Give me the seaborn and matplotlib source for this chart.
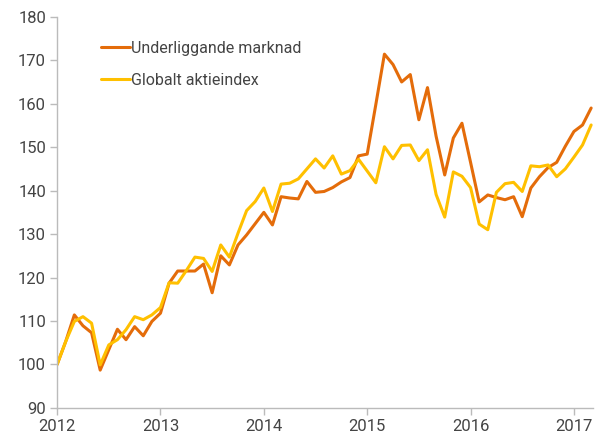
import numpy as np
import pandas as pd
import matplotlib
matplotlib.use("Agg")
import matplotlib.pyplot as plt
import seaborn as sns

# Monthly index values, Jan 2012 - Mar 2017
underliggande = [100.0, 105.3, 111.4, 108.9, 107.3, 98.7, 103.4, 108.1, 105.7, 108.7,
                 106.6, 109.9, 111.8, 118.7, 121.5, 121.5, 121.5, 123.1, 116.5, 125.0,
                 122.9, 127.5, 129.8, 132.4, 135.0, 132.1, 138.6, 138.3, 138.1, 142.1,
                 139.6, 139.8, 140.7, 142.0, 143.0, 148.0, 148.4, 159.8, 171.4, 169.0,
                 165.0, 166.7, 156.3, 163.7, 152.5, 143.6, 152.1, 155.5, 146.5, 137.4,
                 139.0, 138.4, 137.9, 138.6, 134.0, 140.6, 143.2, 145.3, 146.5, 150.2,
                 153.6, 155.1, 159.0]
globalt = [100.0, 105.3, 109.9, 111.0, 109.5, 99.9, 104.5, 105.7, 108.0, 111.0,
           110.3, 111.4, 113.1, 118.8, 118.7, 121.6, 124.7, 124.4, 121.4, 127.5,
           124.7, 130.2, 135.4, 137.5, 140.6, 135.2, 141.5, 141.7, 142.7, 145.0,
           147.3, 145.2, 148.0, 143.8, 144.6, 147.2, 144.5, 141.8, 150.1, 147.3,
           150.4, 150.5, 146.9, 149.4, 139.1, 133.9, 144.3, 143.3, 140.7, 132.3,
           131.0, 139.6, 141.6, 141.9, 139.8, 145.7, 145.5, 145.9, 143.2, 145.0,
           147.7, 150.5, 155.1]
series_names = ["Underliggande marknad", "Globalt aktieindex"]
colors = ["#E46C0A", "#FFC000"]
year_ticks = [2012, 2013, 2014, 2015, 2016, 2017]
y_ticks = list(range(90, 181, 10))

dates = 2012 + np.arange(len(underliggande)) / 12
df = pd.DataFrame({"date": dates,
                   series_names[0]: underliggande,
                   series_names[1]: globalt})
long = df.melt(id_vars="date", var_name="serie", value_name="value")

sns.set_style("white")
plt.rcParams["font.family"] = ["Roboto", "DejaVu Sans"]

fig = plt.figure(figsize=(5.95, 4.41), dpi=100)
ax = fig.add_axes([0.096, 0.075, 0.901, 0.887])

sns.lineplot(data=long, x="date", y="value", hue="serie",
             palette=dict(zip(series_names, colors)), linewidth=2.2, ax=ax)

ax.set_xlim(2012, dates[-1] + 0.02)
ax.set_ylim(90, 180)
ax.set_xticks(year_ticks)
ax.set_xticklabels([str(y) for y in year_ticks])
ax.set_yticks(y_ticks)
ax.set_xlabel("")
ax.set_ylabel("")

for side in ["top", "right"]:
    ax.spines[side].set_visible(False)
for side in ["left", "bottom"]:
    ax.spines[side].set_color("#bbbbbb")
    ax.spines[side].set_linewidth(1.0)
ax.tick_params(axis="both", which="both", direction="out", length=5,
               width=1.0, color="#bbbbbb", labelsize=12, labelcolor="#444444",
               left=True, bottom=True, pad=3)

leg = ax.legend(loc="upper left", bbox_to_anchor=(0.055, 0.975), frameon=False,
                fontsize=11.5, handlelength=1.8, handletextpad=0.05,
                labelspacing=1.05)
for line in leg.get_lines():
    line.set_linewidth(2.2)
for t in leg.get_texts():
    t.set_color("#444444")

fig.savefig("out.png", dpi=100)
